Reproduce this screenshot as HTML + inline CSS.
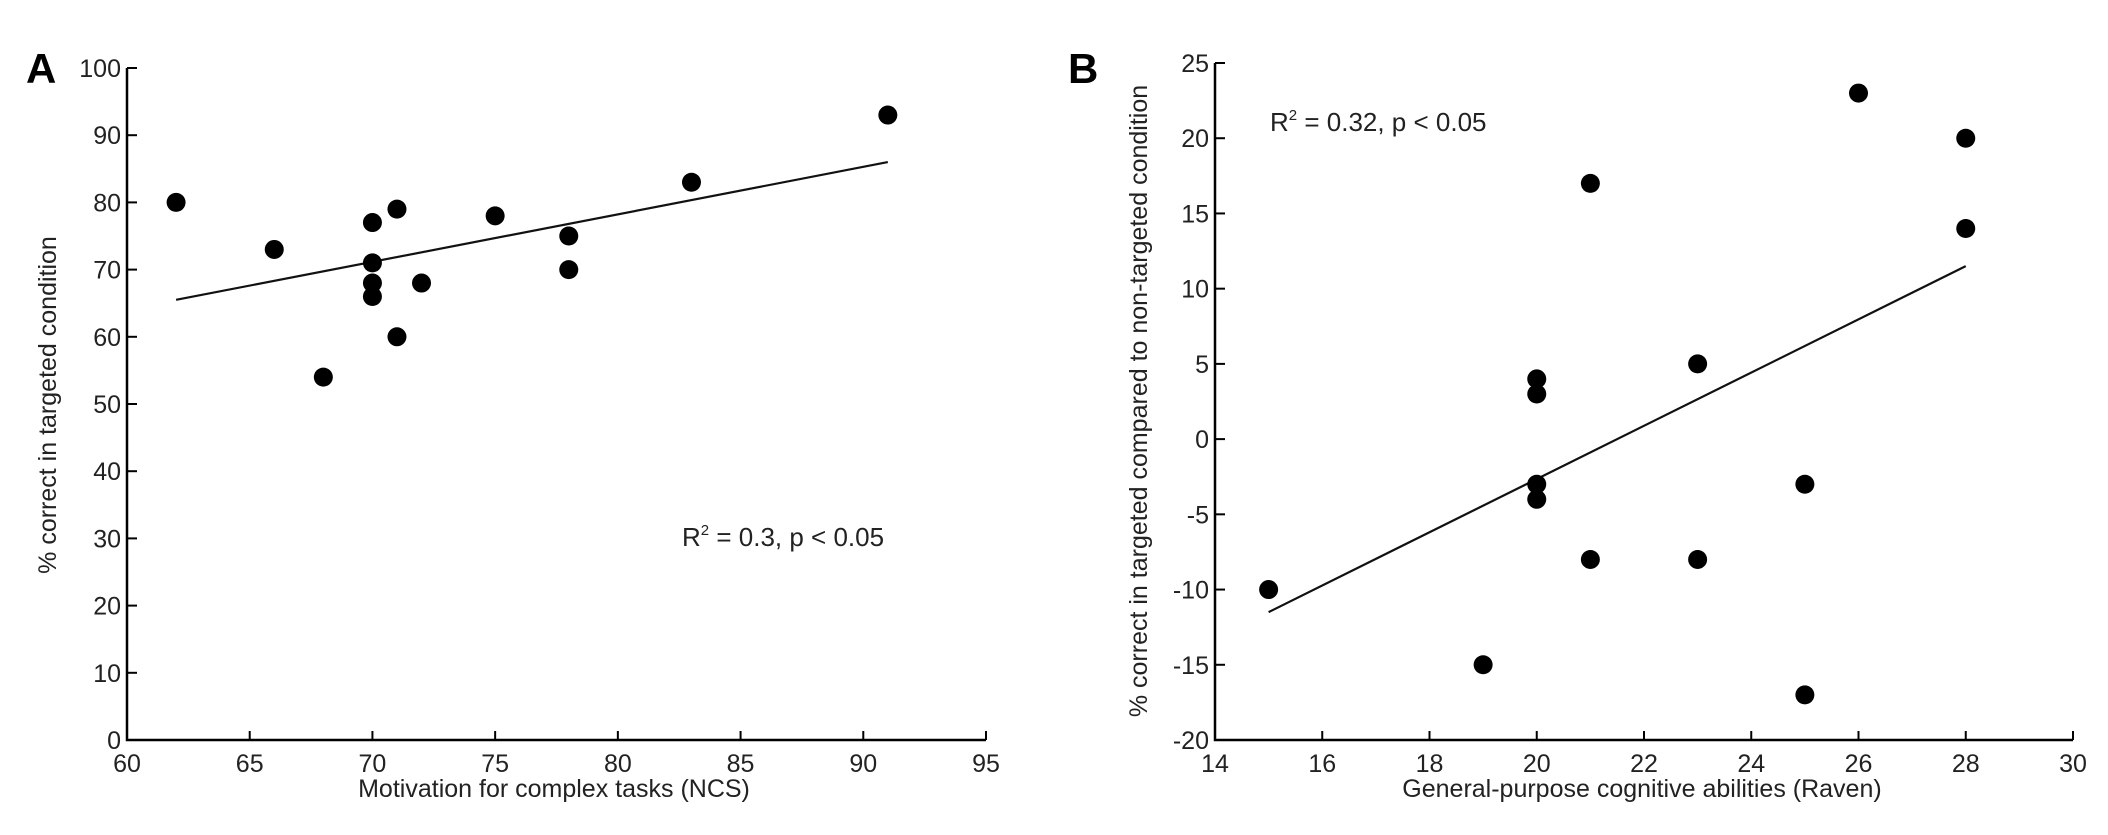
<!DOCTYPE html>
<html><head><meta charset="utf-8"><style>
html,body{margin:0;padding:0;background:#fff;}
svg{display:block;font-family:"Liberation Sans",Arial,sans-serif;}
</style></head><body>
<svg id="fig" width="2108" height="835" viewBox="0 0 2108 835"></svg>
<script>
const aX=[62,66,68,70,70,70,70,71,71,72,75,78,78,83,91];
const aY=[80,73,54,77,71,68,66,79,60,68,78,75,70,83,93];
const aFit=[[62,65.5],[91,86]];
const aXTicks=[60,65,70,75,80,85,90,95];
const aYTicks=[0,10,20,30,40,50,60,70,80,90,100];
const bX=[15,19,20,20,20,20,21,21,23,23,25,25,26,28,28];
const bY=[-10,-15,4,3,-3,-4,17,-8,5,-8,-3,-17,23,20,14];
const bFit=[[15,-11.5],[28,11.5]];
const bXTicks=[14,16,18,20,22,24,26,28,30];
const bYTicks=[-20,-15,-10,-5,0,5,10,15,20,25];
const NS="http://www.w3.org/2000/svg";
const svg=document.getElementById('fig');
function mk(t,a,p){const e=document.createElementNS(NS,t);for(const k in a)e.setAttribute(k,a[k]);(p||svg).appendChild(e);return e;}
function panel(cfg){
  const g=mk('g',{});
  
  
  const xs=v=>cfg.L+(v-cfg.xr[0])/(cfg.xr[1]-cfg.xr[0])*(cfg.R-cfg.L);
  const ys=v=>cfg.B-(v-cfg.yr[0])/(cfg.yr[1]-cfg.yr[0])*(cfg.B-cfg.T);
  const ax=mk('path',{d:`M${cfg.L} ${cfg.T}V${cfg.B}H${cfg.R}`,stroke:'#000','stroke-width':2.5,fill:'none'},g);
  
  
  cfg.xt.forEach(v=>{const x=xs(v);
    mk('line',{x1:x,x2:x,y1:cfg.B,y2:cfg.B-9,stroke:'#000','stroke-width':2},g);
    const t=mk('text',{x:x,y:cfg.B+32,'text-anchor':'middle','font-size':25,fill:'#222'},g);t.textContent=v;
    
    });
  cfg.yt.forEach(v=>{const y=ys(v);
    mk('line',{x1:cfg.L,x2:cfg.L+10,y1:y,y2:y,stroke:'#000','stroke-width':2},g);
    const t=mk('text',{x:cfg.L-6,y:y+9,'text-anchor':'end','font-size':25,fill:'#222'},g);t.textContent=v;
    
    });
  const ln=mk('line',{x1:xs(cfg.fit[0][0]),y1:ys(cfg.fit[0][1]),x2:xs(cfg.fit[1][0]),y2:ys(cfg.fit[1][1]),stroke:'#111','stroke-width':2.2},g);
  
  
  cfg.px.forEach((v,i)=>{const c=mk('circle',{cx:xs(v),cy:ys(cfg.py[i]),r:9.5,fill:'#000'},g);
    
    });
  const xt=mk('text',{x:cfg.xtx,y:797,'text-anchor':'middle','font-size':25,fill:'#222'},g);xt.textContent=cfg.xtitle;
  
  
  const yt=mk('text',{x:0,y:0,'text-anchor':'middle','font-size':25,fill:'#222',transform:`translate(${cfg.ytx},${cfg.yty}) rotate(-90)`},g);yt.textContent=cfg.ytitle;
  
  
  const r=mk('text',{x:cfg.rx,y:cfg.ry,'font-size':26,fill:'#222'},g);
  r.innerHTML='R<tspan font-size="15" dy="-11">2</tspan><tspan dy="11"> = '+cfg.r2+', p &lt; 0.05</tspan>';
  
  
  const pl=mk('text',{x:cfg.lx,y:83,'font-size':42,'font-weight':'bold',fill:'#000'},g);pl.textContent=cfg.letter;
  
  
}
panel({name:'panel-a',L:127,R:986,T:68,B:740,xr:[60,95],yr:[0,100],xt:aXTicks,yt:aYTicks,px:aX,py:aY,fit:aFit,
  xtitle:'Motivation for complex tasks (NCS)',xtx:554,ytitle:'% correct in targeted condition',ytx:56,yty:405,
  rx:682,ry:546,r2:'0.3',letter:'A',lx:26});
panel({name:'panel-b',L:1215,R:2073,T:63,B:740,xr:[14,30],yr:[-20,25],xt:bXTicks,yt:bYTicks,px:bX,py:bY,fit:bFit,
  xtitle:'General-purpose cognitive abilities (Raven)',xtx:1642,ytitle:'% correct in targeted compared to non-targeted condition',ytx:1147,yty:401,
  rx:1270,ry:131,r2:'0.32',letter:'B',lx:1068});
</script>
</body></html>
